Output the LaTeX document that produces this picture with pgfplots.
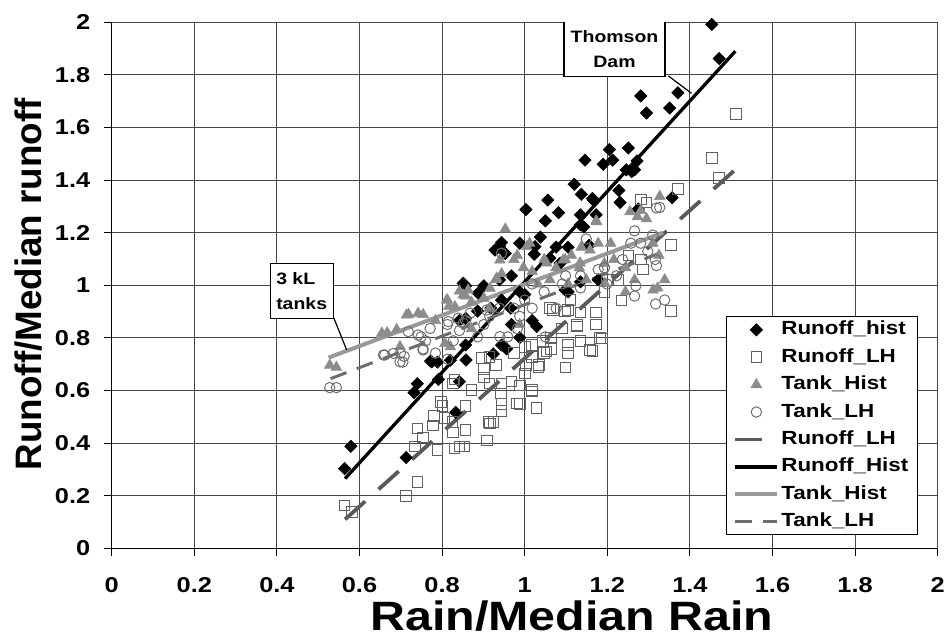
\documentclass[border=0pt]{standalone}
\usepackage{fontspec}
\setmainfont{Liberation Sans}[FakeStretch=1.18]
\newfontfamily\plainfont{Liberation Sans}
\usepackage{pgfplots}
\pgfplotsset{compat=1.18}

\pgfplotsset{
  markleg/.style={legend image code/.code={\draw[mark repeat=2,mark phase=2,##1] plot coordinates {(0pt,0pt) (21pt,0pt) (42pt,0pt)};}},
  lineleg/.style={legend image code/.code={\draw[##1] (0pt,0pt) -- (42pt,0pt);}},
}

\begin{document}
\begin{tikzpicture}
\useasboundingbox (-111.7pt,-88.7pt) rectangle (832.3pt,548.3pt);
\begin{axis}[
    at={(0,0)}, anchor=south west,
    scale only axis, width=826pt, height=526pt,
    xmin=0, xmax=2, ymin=0, ymax=2,
    xtick={0,0.2,0.4,0.6,0.8,1,1.2,1.4,1.6,1.8,2},
    ytick={0,0.2,0.4,0.6,0.8,1,1.2,1.4,1.6,1.8,2},
    axis lines*=left,
    axis line style={black, line width=1pt},
    tick align=outside, major tick length=8pt,
    tick style={black, line width=1pt},
    grid=major, major grid style={black!72, line width=0.9pt},
    /pgf/number format/assume math mode=true,
    ticklabel style={font=\bfseries\fontsize{21.5}{24}\selectfont},
    xticklabel style={yshift=-18pt},
    yticklabel style={xshift=-10pt},
    xlabel={Rain/Median Rain},
    xlabel style={at={(axis description cs:0.557,-0.1555)}, anchor=base,
                  font=\bfseries\fontsize{41}{44}\selectfont},
    ylabel={Runoff/Median runoff},
    ylabel style={at={(axis description cs:-0.0844,0.502)}, anchor=base, rotate=0,
                  font=\plainfont\bfseries\fontsize{36.8}{40}\selectfont},
    legend style={at={(rel axis cs:0.976,0.025)}, anchor=south east,
                  draw=black, line width=1pt, fill=white,
                  font=\bfseries\fontsize{19}{20}\selectfont,
                  inner xsep=7pt,
                  row sep=5.4pt,
                  nodes={inner ysep=2pt, text height=14pt, text depth=4pt}},
    legend cell align=left,
]

% Runoff_hist
\addplot[only marks, mark=square*, mark size=4.4pt, line width=0.5pt,
         mark options={rotate=45, fill=black, draw=black}, markleg] table {
1.453 1.992
1.471 1.862
1.371 1.732
1.351 1.674
1.281 1.720
1.295 1.655
1.251 1.522
1.205 1.516
1.213 1.476
1.190 1.460
1.146 1.476
1.272 1.473
1.266 1.439
1.246 1.439
1.259 1.432
1.120 1.384
1.137 1.346
1.228 1.361
1.231 1.315
1.164 1.330
1.166 1.324
1.056 1.324
1.003 1.288
1.050 1.245
1.135 1.268
1.173 1.268
1.082 1.276
1.275 1.290
1.357 1.333
1.038 1.183
1.135 1.230
1.143 1.222
0.988 1.160
0.939 1.149
0.928 1.134
0.953 1.121
0.944 1.163
1.156 1.152
1.076 1.145
1.105 1.145
1.025 1.147
1.061 1.103
1.023 1.118
1.086 1.084
0.939 1.021
0.968 1.036
0.901 0.998
0.857 0.998
0.851 1.008
0.887 0.970
1.105 0.975
1.098 0.982
1.135 1.013
1.178 1.021
1.000 0.965
0.988 0.975
0.918 0.913
0.886 0.902
0.944 0.944
0.966 0.913
1.018 0.866
1.029 0.843
0.857 0.874
0.842 0.866
0.968 0.851
0.988 0.801
0.772 0.712
0.775 0.709
0.820 0.715
0.858 0.716
0.857 0.773
0.944 0.773
0.924 0.739
0.956 0.758
0.789 0.708
0.740 0.626
0.732 0.592
0.791 0.642
0.842 0.634
0.833 0.517
0.713 0.345
0.579 0.388
0.564 0.303
};
\addlegendentry{Runoff\_hist}

% Runoff_LH
\addplot[only marks, mark=square, mark size=5.3pt, color=black!62, line width=1pt, markleg] table {
1.512 1.652
1.453 1.485
1.471 1.408
1.371 1.366
1.281 1.326
1.295 1.315
1.354 1.154
1.354 0.903
1.234 0.942
1.287 1.060
1.281 1.098
1.251 1.114
1.227 1.021
1.193 0.975
1.199 1.021
1.173 0.897
1.187 0.797
1.173 0.851
1.164 0.750
1.135 0.789
1.127 0.848
1.135 0.897
1.105 0.905
1.111 0.944
1.061 0.913
1.069 0.906
1.098 0.900
1.091 0.835
1.126 0.843
1.182 0.799
1.158 0.754
1.105 0.773
1.105 0.742
1.064 0.758
1.064 0.801
1.044 0.789
1.053 0.748
1.035 0.696
1.033 0.690
1.099 0.688
1.047 0.742
1.018 0.727
1.003 0.696
1.000 0.766
1.018 0.773
1.000 0.665
0.988 0.619
1.018 0.596
1.017 0.602
1.029 0.534
0.988 0.549
0.981 0.551
0.944 0.549
0.944 0.523
0.942 0.588
0.968 0.634
0.944 0.626
0.915 0.626
0.901 0.650
0.901 0.681
0.895 0.724
0.930 0.696
0.915 0.727
0.974 0.742
0.912 0.480
0.924 0.480
0.916 0.475
0.909 0.410
0.857 0.541
0.857 0.449
0.854 0.387
0.830 0.379
0.842 0.387
0.827 0.441
0.825 0.480
0.827 0.626
0.830 0.642
0.871 0.603
0.801 0.541
0.798 0.557
0.806 0.495
0.781 0.503
0.778 0.467
0.789 0.374
0.740 0.456
0.754 0.421
0.734 0.387
0.740 0.251
0.713 0.198
0.564 0.162
0.582 0.139
};
\addlegendentry{Runoff\_LH}

% Tank_Hist
\addplot[only marks, mark=triangle*, mark size=6.2pt, color=black!45, fill=black!45, line width=0.5pt, markleg] table {
0.528 0.696
0.544 0.688
0.654 0.818
0.667 0.820
0.690 0.832
0.698 0.767
0.714 0.887
0.719 0.889
0.742 0.894
0.754 0.889
0.784 0.866
0.807 0.779
0.811 0.944
0.813 0.944
0.816 0.920
0.831 0.919
0.842 0.978
0.851 0.963
0.857 0.959
0.863 0.982
0.871 0.936
0.871 0.835
0.820 0.766
0.915 0.913
0.901 0.951
0.916 0.989
0.932 1.027
0.953 1.214
0.930 1.021
0.944 1.044
0.940 1.096
0.974 1.098
0.982 1.114
1.005 1.147
1.012 1.160
0.997 1.067
1.018 1.052
1.032 1.005
1.047 1.098
1.053 1.085
1.061 1.021
1.076 1.067
1.093 1.096
1.098 1.098
1.113 1.114
1.134 1.085
1.137 1.145
1.158 1.134
1.174 1.242
1.173 1.245
1.178 1.160
1.193 1.083
1.194 1.008
1.216 1.098
1.208 1.160
1.244 1.067
1.266 1.021
1.255 1.280
1.273 1.261
1.281 1.284
1.295 1.253
1.327 1.338
1.310 1.160
1.325 1.114
1.339 1.021
1.322 0.990
1.311 0.982
1.244 0.975
1.132 1.067
1.149 1.021
1.105 1.005
0.988 0.851
};
\addlegendentry{Tank\_Hist}

% Tank_LH
\addplot[only marks, mark=o, mark size=5.2pt, color=black!56, line width=1pt, markleg] table {
0.528 0.611
0.544 0.611
0.658 0.735
0.661 0.735
0.682 0.741
0.699 0.742
0.698 0.709
0.705 0.708
0.708 0.730
0.718 0.824
0.742 0.811
0.754 0.754
0.754 0.758
0.760 0.789
0.749 0.804
0.771 0.836
0.784 0.742
0.813 0.719
0.827 0.789
0.815 0.862
0.813 0.851
0.839 0.875
0.842 0.828
0.851 0.856
0.857 0.866
0.868 0.894
0.886 0.804
0.901 0.851
0.908 0.906
0.915 0.882
0.939 0.913
0.940 0.805
0.944 1.122
0.959 0.804
0.974 0.913
0.982 0.835
0.988 0.882
1.000 0.944
1.018 1.005
1.018 0.913
1.047 0.975
1.050 0.804
1.076 0.913
1.091 1.005
1.099 1.036
1.135 1.036
1.135 0.990
1.149 1.176
1.178 1.060
1.193 1.067
1.199 1.005
1.222 1.036
1.237 1.098
1.257 1.160
1.266 1.207
1.266 0.959
1.269 0.998
1.281 1.160
1.298 1.129
1.310 1.191
1.316 1.098
1.319 1.075
1.319 1.294
1.327 1.296
1.317 0.929
1.339 0.944
};
\addlegendentry{Tank\_LH}

% trend lines
\addplot[black!65, line width=3.8pt, dash pattern=on 27pt off 18pt, lineleg]
  coordinates {(0.565,0.11) (1.51,1.44)};
\addlegendentry{Runoff\_LH}
\addplot[black, line width=3.3pt, lineleg]
  coordinates {(0.565,0.265) (1.51,1.89)};
\addlegendentry{Runoff\_Hist}
\addplot[black!40, line width=4pt, lineleg]
  coordinates {(0.525,0.725) (1.335,1.2)};
\addlegendentry{Tank\_Hist}
\addplot[black!57, line width=3pt, dash pattern=on 17pt off 11pt, lineleg]
  coordinates {(0.53,0.645) (1.34,1.13)};
\addlegendentry{Tank\_LH}

% callouts
\draw[black, line width=1.2pt] (axis cs:1.348,1.796) -- (axis cs:1.404,1.730);
\node[draw=black, fill=white, line width=1.3pt, minimum width=101pt, minimum height=55pt,
      inner sep=0pt, align=center, font=\bfseries\fontsize{16.5}{25}\selectfont]
  at (axis cs:1.2175,1.898) {Thomson\\Dam};
\draw[black, line width=1.2pt] (axis cs:0.538,0.875) -- (axis cs:0.569,0.754);
\node[draw=black, fill=white, line width=1.3pt, minimum width=63pt, minimum height=55pt,
      inner sep=0pt, align=left, font=\bfseries\fontsize{16.5}{25}\selectfont]
  at (axis cs:0.460,0.979) {3 kL\\tanks};
\end{axis}
\end{tikzpicture}
\end{document}
